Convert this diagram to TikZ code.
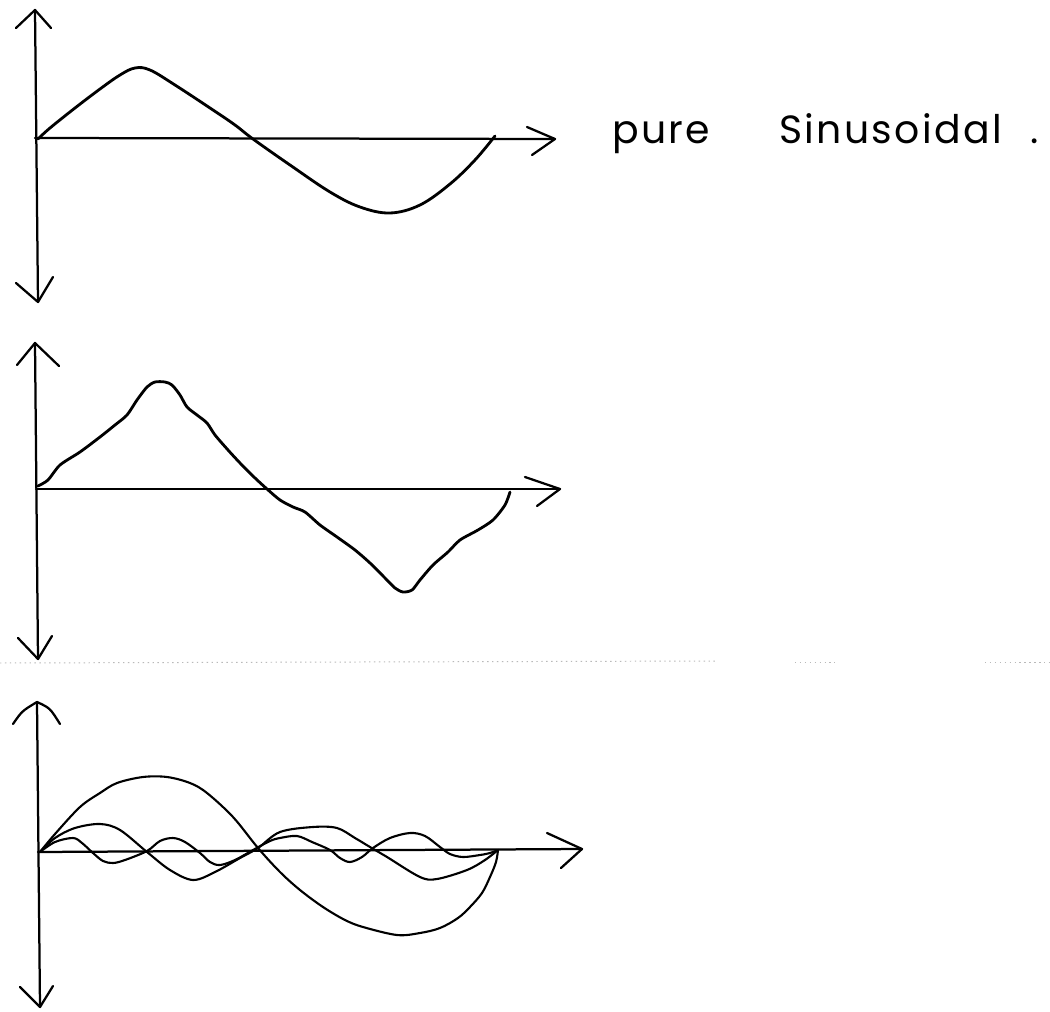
\documentclass[tikz,border=0pt]{standalone}
\usepackage{fontspec}
\setmainfont{Poppins}
\newfontfamily\handfont{Poppins}[LetterSpace=6]
\begin{document}
\begin{tikzpicture}[x=0.25mm,y=-0.25mm,
  axis/.style={line width=1.6pt,line cap=round,line join=round},
  wave/.style={line width=2pt,line cap=round,line join=round},
  thinwave/.style={line width=1.5pt,line cap=round,line join=round},
  noise/.style={gray!55,line width=0.7pt,dash pattern=on 1pt off 2.5pt}]
\path[use as bounding box,fill=white] (0,0) rectangle (1050,1012);

% ---------- panel 1 ----------
\coordinate (a1t) at (35,10);
\coordinate (a1b) at (38,302);
\coordinate (a1o) at (35,138);
\coordinate (a1r) at (555,139);
\draw[axis] (a1t) -- (a1b);
\draw[axis] (16,28) -- (a1t) -- (51,28);
\draw[axis] (16,283) -- (a1b) -- (53,277);
\draw[axis] (a1o) -- (a1r);
\draw[axis] (527,127) -- (a1r) -- (532,155);
\draw[wave] plot[smooth,tension=0.6] coordinates {
 (38,139) (50,128) (75,108) (100,89) (120,75) (135,68) (150,70) (175,85)
 (213,110) (235,125) (253,139) (290,165) (330,192) (360,207) (390,213)
 (420,205) (450,184) (475,160) (495,136)};
\node[anchor=base west,inner sep=0pt,font=\handfont\fontsize{28}{32}\selectfont] (lbl) at (612,143) {pure\hspace{49pt}Sinusoidal\hspace{20pt}.};

% ---------- panel 2 ----------
\coordinate (a2t) at (35,343);
\coordinate (a2b) at (38,659);
\coordinate (a2o) at (36,489);
\coordinate (a2r) at (560,489);
\draw[axis] (a2t) -- (a2b);
\draw[axis] (17,365) -- (a2t) -- (59,366);
\draw[axis] (18,638) -- (a2b) -- (52,636);
\draw[axis] (a2o) -- (a2r);
\draw[axis] (525,477) -- (a2r) -- (537,506);
\draw[wave] plot[smooth,tension=0.45] coordinates {
 (38,486) (48,480) (60,465) (80,452) (100,437) (115,425) (127,415) (137,400)
 (147,387) (155,382) (165,382) (172,385) (180,395) (187,407) (197,415)
 (207,423) (215,435) (228,450) (240,463) (255,478) (267,489) (280,500)
 (293,507) (305,512) (320,525) (337,537) (355,550) (370,563) (385,578)
 (395,588) (403,592) (412,590) (420,580) (433,565) (448,552) (460,540)
 (478,530) (493,520) (505,505) (510,492)};

% scan noise
\draw[noise] (0,663) -- (715,661);
\draw[noise] (795,662) -- (835,662);
\draw[noise] (985,662) -- (1050,662);

% ---------- panel 3 ----------
\coordinate (a3t) at (37,702);
\coordinate (a3b) at (40,1007);
\coordinate (a3o) at (38,852);
\coordinate (a3r) at (582,849);
\draw[axis] (a3t) -- (a3b);
\draw[axis] (13,724) .. controls (22,711) .. (a3t) .. controls (50,708) .. (60,724);
\draw[axis] (20,987) -- (a3b) -- (53,986);
\draw[axis] (a3o) -- (a3r);
\draw[axis] (547,833) -- (a3r) -- (561,868);
% fundamental
\draw[thinwave] plot[smooth,tension=0.55] coordinates {
 (40,852) (55,834) (80,807) (100,793) (117,783) (143,777) (167,777) (190,783)
 (207,793) (233,817) (258,848) (280,872) (300,890) (323,907) (345,920)
 (363,927) (397,935) (420,933) (440,928) (458,918) (470,907) (482,893)
 (490,877) (496,862) (498,850)};
% second harmonic
\draw[thinwave] plot[smooth,tension=0.55] coordinates {
 (40,852) (55,838) (75,828) (100,824) (120,830) (147,852) (170,870) (193,880)
 (215,872) (240,858) (258,848) (280,832) (313,827) (337,828) (355,838)
 (370,847) (387,857) (420,877) (437,879) (467,870) (485,860) (498,850)};
% fourth harmonic
\draw[thinwave] plot[smooth,tension=0.55] coordinates {
 (40,852) (55,842) (73,838) (82,843) (93,853) (103,861) (113,863) (125,860)
 (147,851) (160,841) (173,838) (185,842) (200,853) (210,862) (220,865)
 (235,860) (253,850) (270,841) (280,838) (297,836) (312,842) (330,850)
 (340,858) (350,862) (362,857) (373,848) (390,838) (410,833) (425,836)
 (440,847) (450,854) (463,857) (480,855) (490,853) (498,850)};
\end{tikzpicture}
\end{document}
